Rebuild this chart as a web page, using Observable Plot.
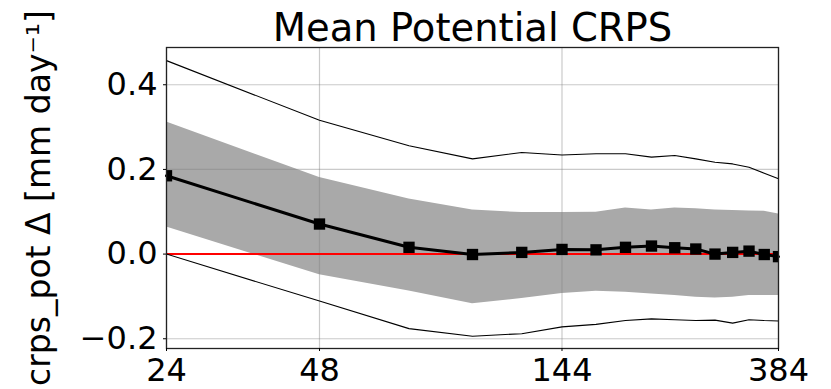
<!DOCTYPE html>
<html>
<head>
<meta charset="utf-8">
<script src="https://cdn.jsdelivr.net/npm/d3@7"></script>
<script src="https://cdn.jsdelivr.net/npm/@observablehq/plot@0.6"></script>
<style>
  html, body { margin: 0; padding: 0; background: #fff; }
</style>
</head>
<body>
<div id="chart"></div>
<script>
// Lead times (hours)
const leadTimes = [24, 48, 72, 96, 120, 144, 168, 192, 216, 240, 264, 288, 312, 336, 360, 384];
// Mean potential CRPS difference
const meanDelta = [0.185, 0.071, 0.016, -0.001, 0.004, 0.011, 0.010, 0.016, 0.019, 0.015, 0.012, 0.000, 0.004, 0.007, -0.001, -0.006];
// Shaded confidence band
const bandUpper = [0.312, 0.181, 0.130, 0.104, 0.098, 0.098, 0.099, 0.109, 0.104, 0.109, 0.107, 0.104, 0.103, 0.102, 0.101, 0.095];
const bandLower = [0.064, -0.049, -0.087, -0.117, -0.105, -0.093, -0.088, -0.090, -0.094, -0.098, -0.102, -0.104, -0.102, -0.098, -0.098, -0.098];
// Outer envelope (thin lines)
const envelopeUpper = [0.457, 0.316, 0.256, 0.225, 0.240, 0.234, 0.237, 0.237, 0.229, 0.233, 0.225, 0.217, 0.213, 0.205, 0.191, 0.178];
const envelopeLower = [0.000, -0.111, -0.176, -0.194, -0.188, -0.172, -0.166, -0.157, -0.153, -0.155, -0.157, -0.156, -0.163, -0.155, -0.157, -0.158];
// Axis ticks
const xTicks = [24, 48, 144, 384];
const yTicks = [-0.2, 0.0, 0.2, 0.4];

const titleText = "Mean Potential CRPS";
const yLabelText = "crps_pot Δ [mm day⁻¹]";

const rows = leadTimes.map((t, i) => ({
  t,
  mean: meanDelta[i],
  hi: bandUpper[i],
  lo: bandLower[i],
  envHi: envelopeUpper[i],
  envLo: envelopeLower[i]
}));

const fmtY = d => (d < 0 ? "\u2212" : "") + Math.abs(d).toFixed(1);

const chart = Plot.plot({
  width: 831,
  height: 389,
  marginLeft: 166,
  marginRight: 53,
  marginTop: 47,
  marginBottom: 41,
  style: {fontFamily: "DejaVu Sans", fontSize: "32px", background: "#fff", color: "#000", overflow: "visible"},
  x: {type: "log", domain: [24, 384]},
  y: {domain: [-0.223, 0.488]},
  marks: [
    Plot.areaY(rows, {x: "t", y1: "lo", y2: "hi", fill: "#a9a9a9"}),
    Plot.gridX(xTicks, {stroke: "#808080", strokeOpacity: 0.42, strokeWidth: 1.2}),
    Plot.gridY(yTicks, {stroke: "#808080", strokeOpacity: 0.42, strokeWidth: 1.2}),
    Plot.ruleY([0], {stroke: "#ff0000", strokeWidth: 2}),
    Plot.lineY(rows, {x: "t", y: "envHi", stroke: "#000", strokeWidth: 1.1}),
    Plot.lineY(rows, {x: "t", y: "envLo", stroke: "#000", strokeWidth: 1.1}),
    Plot.lineY(rows, {x: "t", y: "mean", stroke: "#000", strokeWidth: 3}),
    Plot.dot(rows, {x: "t", y: "mean", symbol: "square", r: 6.4, fill: "#000", stroke: "none", clip: true}),
    Plot.frame({stroke: "#222", strokeWidth: 1.3}),
    Plot.axisX({ticks: xTicks, tickSize: 3, tickPadding: 7, tickFormat: d => String(d), label: null, fontSize: 32}),
    Plot.axisY({ticks: yTicks, tickSize: 3, tickPadding: 6, tickFormat: fmtY, label: null, fontSize: 32}),
    Plot.text([titleText], {text: d => d, frameAnchor: "top", textAnchor: "middle", lineAnchor: "bottom", dy: -7, fontSize: 38.5}),
    Plot.text([yLabelText], {text: d => d, frameAnchor: "left", textAnchor: "middle", lineAnchor: "bottom", rotate: -90, dx: -117, fontSize: 33})
  ]
});

document.getElementById("chart").appendChild(chart);
</script>
</body>
</html>
